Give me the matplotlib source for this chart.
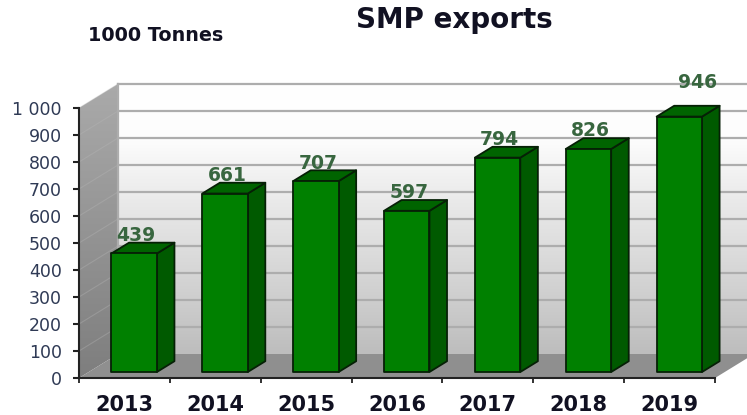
import numpy as np
import matplotlib
matplotlib.use("Agg")
import matplotlib.pyplot as plt
from matplotlib.patches import Polygon
from matplotlib.colors import LinearSegmentedColormap

years = ["2013", "2014", "2015", "2016", "2017", "2018", "2019"]
exports = [439, 661, 707, 597, 794, 826, 946]
y_ticks = [0, 100, 200, 300, 400, 500, 600, 700, 800, 900, 1000]
y_tick_labels = ["0", "100", "200", "300", "400", "500", "600", "700", "800", "900", "1 000"]
title = "SMP exports"
unit = "1000 Tonnes"

W, H = 747, 415
fig = plt.figure(figsize=(W / 100, H / 100), dpi=100)
L, R, T, B = 79, 715, 108, 378
ax = fig.add_axes([L / W, 1 - B / H, (R - L) / W, (B - T) / H])
n = len(years)
ax.set_xlim(0, n)
ax.set_ylim(0, 1000)
px_x = n / (R - L)
px_y = 1000 / (B - T)
DX, DY = 39 * px_x, 24 * px_y


def P(x, v, d=0.0):
    return (x + d * DX, v + d * DY)


def poly(points, **kw):
    p = Polygon(points, closed=True, clip_on=False, **kw)
    ax.add_patch(p)
    return p


# back wall gradient
wall = LinearSegmentedColormap.from_list(
    "wall", [(0, "#bdbdbd"), (0.3, "#d6d6d6"), (0.6, "#ececec"), (0.8, "#fdfdfd"), (1, "#ffffff")])
grad = np.linspace(1, 0, 256).reshape(-1, 1)
x0, y0 = P(0, 0, 1)
x1, y1 = P(n, 1000, 1)
ax.imshow(grad, cmap=wall, extent=[x0, x1, y0, y1], aspect="auto", zorder=1, clip_on=False, vmin=0, vmax=1)

# left wall gradient
side = LinearSegmentedColormap.from_list("side", ["#7e7e7e", "#aaaaaa"])
lw_poly = poly([P(0, 0), P(0, 0, 1), P(0, 1000, 1), P(0, 1000)], facecolor="none", edgecolor="none", zorder=1)
im = ax.imshow(grad, cmap=side, extent=[0, DX, 0, 1000 + DY], aspect="auto", zorder=1, vmin=0, vmax=1)
im.set_clip_path(lw_poly)
im.set_clip_box(fig.bbox)

# floor
poly([P(0, 0), P(n, 0), P(n, 0, 1), P(0, 0, 1)], facecolor="#8f8f8f", edgecolor="none", zorder=1.5)

# gridlines
for v in y_ticks:
    xa, ya = P(0, v, 1)
    xb, yb = P(n, v, 1)
    xs, ys = P(0, v, 0)
    if v > 0:
        ax.plot([xa, xb], [ya, yb], color="#adadad", lw=1.6, zorder=2, clip_on=False)
        ax.plot([xs, xa], [ys, ya], color="#b8b8b8", lw=0.8, alpha=0.35, zorder=2, clip_on=False)
xa, ya = P(0, 0, 1)
xb, yb = P(0, 1000, 1)
ax.plot([xa, xb], [ya, yb], color="#adadad", lw=1.6, zorder=2, clip_on=False)

# bars
bar_w = 0.5
d0, d1 = 0.25, 0.70
edge = "#062006"
# hand-placed label nudges of the original chart (px)
nudge = {"2019": (18, 16)}
for i, (yr, v) in enumerate(zip(years, exports)):
    xl, xr = i + 0.5 - bar_w / 2, i + 0.5 + bar_w / 2
    poly([P(xr, 0, d0), P(xr, 0, d1), P(xr, v, d1), P(xr, v, d0)],
         facecolor="#005a00", edgecolor=edge, lw=1.3, zorder=3, joinstyle="round")
    poly([P(xl, v, d0), P(xr, v, d0), P(xr, v, d1), P(xl, v, d1)],
         facecolor="#006400", edgecolor=edge, lw=1.3, zorder=3, joinstyle="round")
    poly([P(xl, 0, d0), P(xr, 0, d0), P(xr, v, d0), P(xl, v, d0)],
         facecolor="#008000", edgecolor=edge, lw=1.3, zorder=4, joinstyle="round")
    nx, ny = nudge.get(yr, (2, 0))
    tx, ty = P(i + 0.5, v, d0)
    ax.annotate(str(v), (tx, ty), xytext=(nx * 0.72, (18 + ny) * 0.72), textcoords="offset points",
                ha="center", va="center", fontsize=13.5, color="#38663f", fontweight="bold",
                zorder=5, annotation_clip=False)

# axes
for s in ("top", "right"):
    ax.spines[s].set_visible(False)
for s in ("left", "bottom"):
    ax.spines[s].set_color("#222222")
    ax.spines[s].set_linewidth(1.5)
    ax.spines[s].set_zorder(6)
ax.set_yticks(y_ticks, y_tick_labels)
ax.tick_params(axis="y", length=4.5, width=1.5, color="#222222", pad=8, labelsize=12.5, labelcolor="#2f3a55")
ax.set_xticks(range(n + 1), [""] * (n + 1))
ax.tick_params(axis="x", which="major", length=3.5, width=1.3, color="#222222")
ax.set_xticks(np.arange(n) + 0.5, years, minor=True)
ax.tick_params(axis="x", which="minor", length=0, pad=12, labelsize=15)
for t in ax.get_xticklabels(minor=True):
    t.set_fontweight("bold")
    t.set_color("#111122")
ax.set_zorder(1)
ax.patch.set_visible(False)

fig.text(454 / W, 1 - 20.5 / H, title, ha="center", va="center", fontsize=20, fontweight="bold", color="#111122")
fig.text(156 / W, 1 - 35.5 / H, unit, ha="center", va="center", fontsize=13.8, fontweight="bold", color="#111122")

fig.savefig("out.png", dpi=100)
